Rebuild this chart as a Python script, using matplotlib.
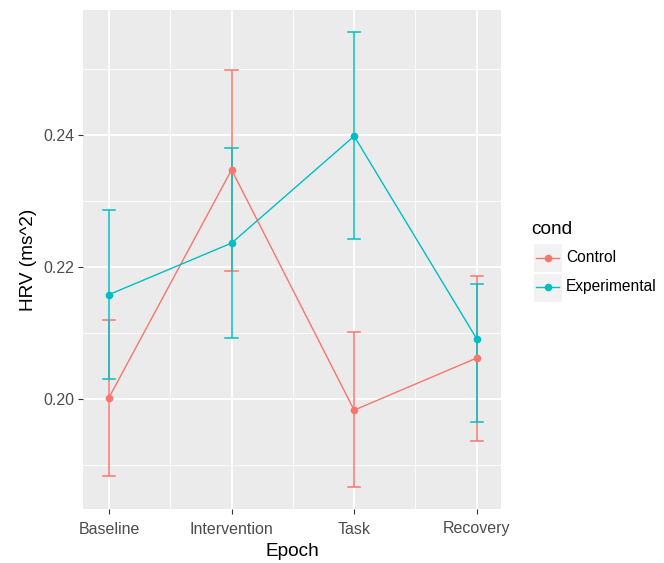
import matplotlib
matplotlib.use("Agg")
import matplotlib.pyplot as plt
from matplotlib.patches import Rectangle
from matplotlib.lines import Line2D

plt.rcParams['font.family'] = ['Liberation Sans', 'DejaVu Sans']

epochs = ["Baseline", "Intervention", "Task", "Recovery"]

control_mean = [0.2002, 0.2347, 0.1983, 0.2062]
control_lo = [0.1884, 0.2194, 0.1866, 0.1937]
control_hi = [0.2120, 0.2498, 0.2102, 0.2186]

exp_mean = [0.2158, 0.2236, 0.2398, 0.2091]
exp_lo = [0.2030, 0.2092, 0.2242, 0.1965]
exp_hi = [0.2286, 0.2380, 0.2555, 0.2174]

groups = ["Control", "Experimental"]
colors = ["#F8766D", "#00BFC4"]

W, H = 664, 563
fig = plt.figure(figsize=(W / 100, H / 100), dpi=100)
fig.patch.set_facecolor("white")

# panel in pixels
px0, py0, px1, py1 = 83, 10, 501, 509
ax = fig.add_axes([px0 / W, 1 - py1 / H, (px1 - px0) / W, (py1 - py0) / H])
ax.set_facecolor("#EBEBEB")

x = list(range(1, len(epochs) + 1))
cap = 0.05

series = [(control_mean, control_lo, control_hi), (exp_mean, exp_lo, exp_hi)]
for (m, lo, hi), c in zip(series, colors):
    for xi, l, h in zip(x, lo, hi):
        ax.plot([xi, xi], [l, h], color=c, lw=1.1, zorder=3, solid_capstyle="butt")
        ax.plot([xi - cap, xi + cap], [l, l], color=c, lw=1.1, zorder=3)
        ax.plot([xi - cap, xi + cap], [h, h], color=c, lw=1.1, zorder=3)
    ax.plot(x, m, color=c, lw=1.0, zorder=4)
    ax.plot(x, m, 'o', color=c, ms=5.5, mec="none", zorder=5)

ax.set_xlim(0.788, 4.198)
ax.set_ylim(0.18333, 0.2589)

ax.set_xticks(x)
ax.set_xticklabels(epochs)
ax.set_xticks([1.5, 2.5, 3.5], minor=True)
ax.set_yticks([0.20, 0.22, 0.24])
ax.set_yticklabels(["0.20", "0.22", "0.24"])
ax.set_yticks([0.19, 0.21, 0.23, 0.25], minor=True)

ax.grid(which="major", color="white", lw=1.3, zorder=1)
ax.grid(which="minor", color="white", lw=0.6, zorder=1)
ax.set_axisbelow(True)
for s in ax.spines.values():
    s.set_visible(False)

ax.tick_params(which="major", length=3.5, width=0.8, color="#333333",
               labelcolor="#4D4D4D", labelsize=11.5, pad=2.5)
ax.tick_params(axis="x", which="major", pad=5.5)
ax.tick_params(which="minor", length=0)

ax.set_xlabel("Epoch", fontsize=13.7, color="black", labelpad=4.5)
ax.set_ylabel("HRV (ms^2)", fontsize=13.7, color="black", labelpad=5)

# legend
def fx(p):
    return p / W

def fy(p):
    return 1 - p / H

fig.text(fx(531), fy(229), "cond", fontsize=13.7, va="center", ha="left")
for i, (g, c) in enumerate(zip(groups, colors)):
    top = 243 + i * 29.5
    fig.add_artist(Rectangle((fx(533), fy(top + 29)), 29 / W, 29 / H,
                             transform=fig.transFigure, facecolor="#F2F2F2",
                             edgecolor="white", lw=0.8))
    yc = fy(top + 14.5)
    fig.add_artist(Line2D([fx(536), fx(559)], [yc, yc], color=c, lw=1.0,
                          transform=fig.transFigure))
    fig.add_artist(Line2D([fx(547.5)], [yc], marker="o", color=c, ms=5.5,
                          mec="none", transform=fig.transFigure))
    fig.text(fx(566), yc, g, fontsize=11.2, va="center", ha="left")

fig.savefig("out.png", dpi=100)
